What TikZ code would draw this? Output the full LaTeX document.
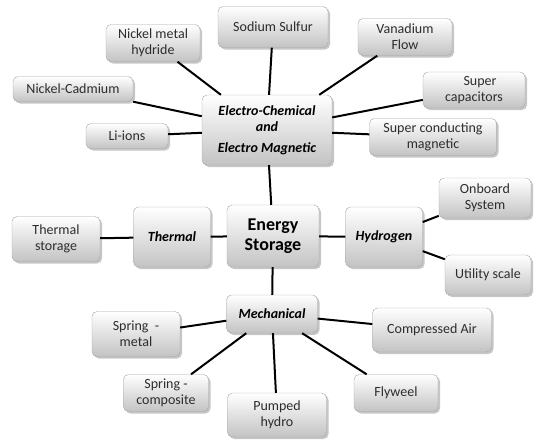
\documentclass[tikz,border=0pt]{standalone}
\usepackage{fontspec}
\setmainfont{Carlito}
\usetikzlibrary{shadows}
\definecolor{boxedge}{RGB}{165, 165, 165}
\definecolor{boxshade}{RGB}{195, 195, 195}
\definecolor{boxtext}{RGB}{45, 45, 45}

\begin{document}
\begin{tikzpicture}[x=1pt, y=-1pt,
  box/.style={draw=boxedge, rounded corners=5pt, top color=white, bottom color=boxshade,
    drop shadow={shadow xshift=2pt, shadow yshift=-2pt, opacity=0.45},
    align=center, inner sep=2pt, text=boxtext, font=\fontsize{14}{16}\selectfont},
  group/.style={box, text=black, font=\fontsize{14}{16}\selectfont\bfseries\itshape},
  link/.style={line width=2pt, black}]
\useasboundingbox (0,0) rectangle (536,440);

% Centre
\node[box, text=black, minimum width=92pt, minimum height=62pt, font=\fontsize{18}{20}\selectfont\bfseries] (es) at (273,236) {Energy\\Storage};

% Groups
\node[group, minimum width=130pt, minimum height=70pt] (ec) at (267,130) {Electro-Chemical\\and\\[5pt]Electro Magnetic};
\node[group, minimum width=77pt, minimum height=60pt] (th) at (172,237) {Thermal};
\node[group, minimum width=77pt, minimum height=60pt] (hy) at (384,237) {Hydrogen};
\node[group, minimum width=91pt, minimum height=38pt] (me) at (272,314) {Mechanical};

% Electro-chemical and electro magnetic
\node[box, minimum width=110pt, minimum height=41pt] (ss) at (273,27) {Sodium Sulfur};
\node[box, minimum width=94pt, minimum height=37pt] (nmh) at (153,43) {Nickel metal\\hydride};
\node[box, minimum width=94pt, minimum height=37pt] (vf) at (405,37) {Vanadium\\Flow};
\node[box, minimum width=120pt, minimum height=25pt] (nc) at (73,89) {Nickel-Cadmium};
\node[box, minimum width=102pt, minimum height=36pt] (sc) at (474,90) {\hspace*{12pt}Super\\capacitors};
\node[box, minimum width=82pt, minimum height=25pt] (li) at (127,136) {Li-ions};
\node[box, minimum width=127pt, minimum height=37pt] (scm) at (433,137) {Super conducting\\magnetic};

% Thermal
\node[box, minimum width=88pt, minimum height=45pt] (ts) at (56,239) {Thermal\\storage};

% Hydrogen
\node[box, minimum width=92pt, minimum height=40pt] (ob) at (485,198) {Onboard\\System};
\node[box, minimum width=86pt, minimum height=40pt] (us) at (488,275) {Utility scale};

% Mechanical
\node[box, minimum width=88pt, minimum height=45pt] (sm) at (136,334) {Spring\ \ -\\metal};
\node[box, minimum width=119pt, minimum height=44pt] (ca) at (432,330) {Compressed Air};
\node[box, minimum width=85pt, minimum height=37pt] (spc) at (166,393) {Spring -\\composite};
\node[box, minimum width=99pt, minimum height=44pt] (ph) at (277,415) {Pumped\\hydro};
\node[box, minimum width=84pt, minimum height=37pt] (fw) at (396,393) {Flyweel};

% Links
\draw[link] (ec) -- (ss);
\draw[link] (ec) -- (nmh);
\draw[link] (ec) -- (vf);
\draw[link] (ec) -- (nc);
\draw[link] (ec) -- (sc);
\draw[link] (ec) -- (li);
\draw[link] (ec) -- (scm);
\draw[link] (es) -- (ec);
\draw[link] (es) -- (th);
\draw[link] (th) -- (ts);
\draw[link] (es) -- (hy);
\draw[link] (hy) -- (ob);
\draw[link] (hy) -- (us);
\draw[link] (es) -- (me);
\draw[link] (me) -- (sm);
\draw[link] (me) -- (spc);
\draw[link] (me) -- (ph);
\draw[link] (me) -- (fw);
\draw[link] (me) -- (ca);
\end{tikzpicture}
\end{document}
